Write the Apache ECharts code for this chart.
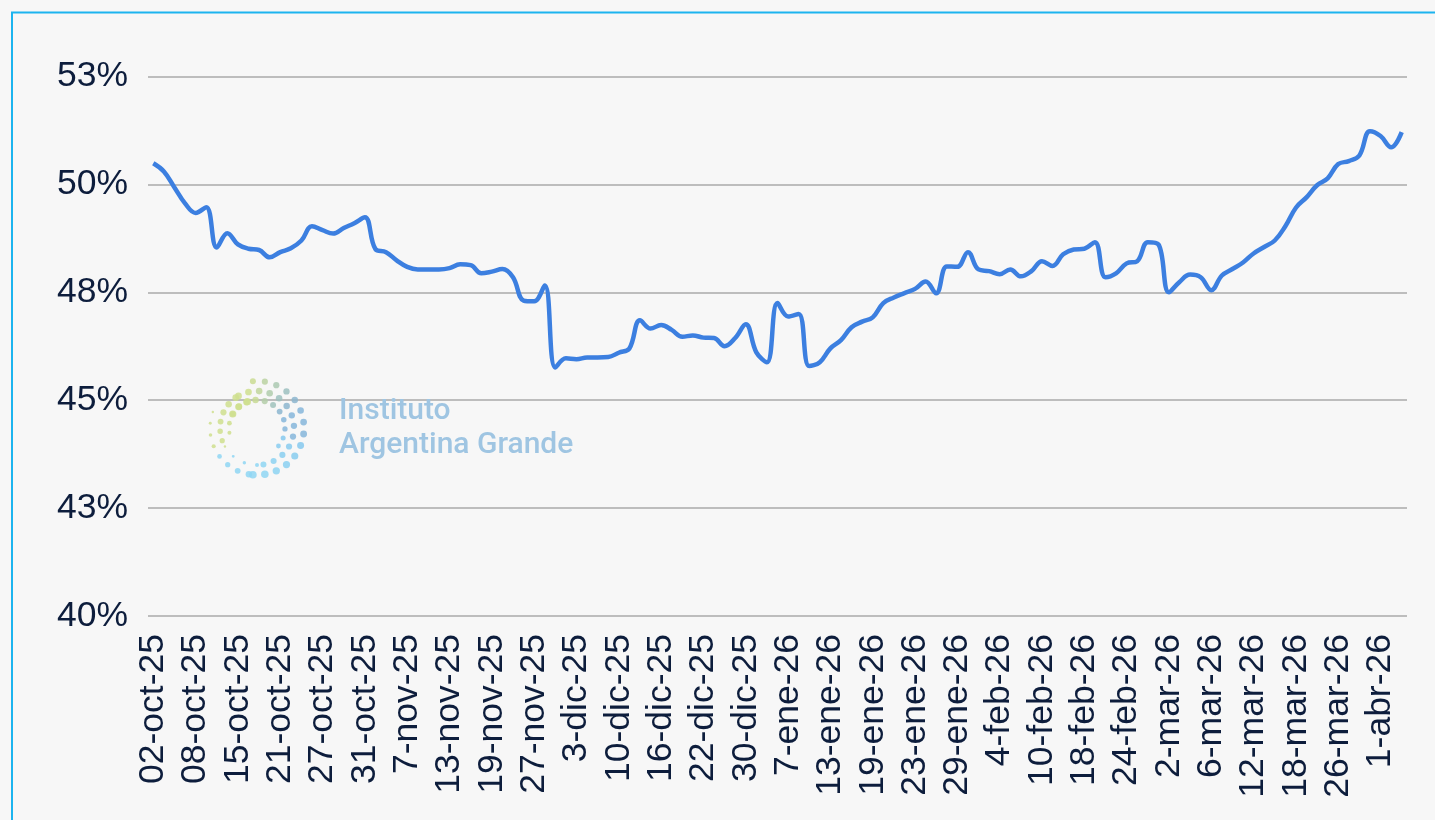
<!DOCTYPE html>
<html>
<head>
<meta charset="utf-8">
<script src="https://cdn.jsdelivr.net/npm/echarts@6/dist/echarts.min.js"></script>
<style>
html,body{margin:0;padding:0;background:#f7f7f7;}
#chart{width:1435px;height:820px;}
</style>
</head>
<body>
<div id="chart"></div>
<script>
const categories = [
 '02-oct-25','3-oct-25','6-oct-25','7-oct-25',
 '08-oct-25','9-oct-25','13-oct-25','14-oct-25',
 '15-oct-25','16-oct-25','17-oct-25','20-oct-25',
 '21-oct-25','22-oct-25','23-oct-25','24-oct-25',
 '27-oct-25','28-oct-25','29-oct-25','30-oct-25',
 '31-oct-25','3-nov-25','4-nov-25','5-nov-25',
 '7-nov-25','10-nov-25','11-nov-25','12-nov-25',
 '13-nov-25','14-nov-25','17-nov-25','18-nov-25',
 '19-nov-25','20-nov-25','25-nov-25','26-nov-25',
 '27-nov-25','28-nov-25','1-dic-25','2-dic-25',
 '3-dic-25','4-dic-25','5-dic-25','9-dic-25',
 '10-dic-25','11-dic-25','12-dic-25','15-dic-25',
 '16-dic-25','17-dic-25','18-dic-25','19-dic-25',
 '22-dic-25','23-dic-25','26-dic-25','29-dic-25',
 '30-dic-25','2-ene-26','5-ene-26','6-ene-26',
 '7-ene-26','8-ene-26','9-ene-26','12-ene-26',
 '13-ene-26','14-ene-26','15-ene-26','16-ene-26',
 '19-ene-26','20-ene-26','21-ene-26','22-ene-26',
 '23-ene-26','26-ene-26','27-ene-26','28-ene-26',
 '29-ene-26','30-ene-26','2-feb-26','3-feb-26',
 '4-feb-26','5-feb-26','6-feb-26','9-feb-26',
 '10-feb-26','11-feb-26','12-feb-26','13-feb-26',
 '18-feb-26','19-feb-26','20-feb-26','23-feb-26',
 '24-feb-26','25-feb-26','26-feb-26','27-feb-26',
 '2-mar-26','3-mar-26','4-mar-26','5-mar-26',
 '6-mar-26','9-mar-26','10-mar-26','11-mar-26',
 '12-mar-26','13-mar-26','16-mar-26','17-mar-26',
 '18-mar-26','19-mar-26','20-mar-26','25-mar-26',
 '26-mar-26','27-mar-26','30-mar-26','31-mar-26',
 '1-abr-26','6-abr-26','7-abr-26'
];

const values = [
 50.49, 50.30, 49.93, 49.56,
 49.34, 49.47, 48.54, 48.87,
 48.61, 48.51, 48.48, 48.31,
 48.43, 48.52, 48.70, 49.03,
 48.94, 48.86, 48.99, 49.10,
 49.24, 48.50, 48.43, 48.24,
 48.09, 48.03, 48.03, 48.03,
 48.06, 48.15, 48.13, 47.94,
 47.98, 48.04, 47.85, 47.31,
 47.29, 47.66, 45.76, 45.97,
 45.95, 45.99, 45.99, 46.00,
 46.10, 46.20, 46.85, 46.66,
 46.74, 46.63, 46.47, 46.50,
 46.45, 46.44, 46.25, 46.44,
 46.76, 46.11, 45.88, 47.25,
 46.94, 47.00, 45.79, 45.88,
 46.20, 46.39, 46.69, 46.82,
 46.92, 47.25, 47.38, 47.48,
 47.58, 47.75, 47.48, 48.10,
 48.09, 48.43, 48.03, 47.99,
 47.92, 48.03, 47.87, 47.99,
 48.22, 48.11, 48.38, 48.49,
 48.51, 48.66, 47.85, 47.94,
 48.17, 48.22, 48.66, 48.61,
 47.50, 47.74, 47.91, 47.85,
 47.55, 47.89, 48.04, 48.19,
 48.40, 48.55, 48.70, 49.03,
 49.46, 49.70, 49.98, 50.14,
 50.47, 50.54, 50.67, 51.23,
 51.12, 50.86, 51.21
];

const yMin = 40;
const yMax = 52.5;
const yStep = 2.5;
const logoLines = ['Instituto', 'Argentina Grande'];

const textColor = '#0d1d3c';

// decorative logo dots
function mix(a, b, t) {
  const pa = [parseInt(a.slice(1,3),16), parseInt(a.slice(3,5),16), parseInt(a.slice(5,7),16)];
  const pb = [parseInt(b.slice(1,3),16), parseInt(b.slice(3,5),16), parseInt(b.slice(5,7),16)];
  return 'rgb(' + pa.map((v,i)=>Math.round(v+(pb[i]-v)*t)).join(',') + ')';
}
const logoDots = [];
const cx = 257, cy = 428;
const rings = [
  {r: 47, a0: -95, a1: 95, n: 14, s0: 3.0, s1: 3.8},
  {r: 37, a0: -120, a1: 80, n: 13, s0: 3.4, s1: 3.0},
  {r: 28, a0: -150, a1: 40, n: 11, s0: 3.6, s1: 2.4},
  {r: 47, a0: 100, a1: 200, n: 8, s0: 3.2, s1: 1.2},
  {r: 37, a0: 90, a1: 150, n: 4, s0: 2.0, s1: 1.2},
  {r: 37, a0: 160, a1: 235, n: 6, s0: 2.6, s1: 3.4},
  {r: 28, a0: 170, a1: 250, n: 5, s0: 2.0, s1: 3.6}
];
rings.forEach(rg => {
  for (let k = 0; k < rg.n; k++) {
    const t = rg.n === 1 ? 0 : k / (rg.n - 1);
    const ang = (rg.a0 + (rg.a1 - rg.a0) * t) * Math.PI / 180;
    const x = cx + rg.r * Math.cos(ang);
    const y = cy + rg.r * Math.sin(ang);
    const deg = ((rg.a0 + (rg.a1 - rg.a0) * t) + 360) % 360;
    let col;
    if (deg >= 150 && deg <= 260) col = '#cfdf8e';
    else if (deg > 260 && deg < 330) col = mix('#cfdf8e', '#86b2d6', (deg - 260) / 70);
    else if (deg >= 330 || deg < 20) col = '#86b6db';
    else col = mix('#86c9ee', '#8fd6f3', Math.min(1, (deg - 20) / 60));
    logoDots.push({
      type: 'circle', silent: true, z: 1,
      shape: {cx: x, cy: y, r: rg.s0 + (rg.s1 - rg.s0) * t},
      style: {fill: col, opacity: 0.85}
    });
  }
});

const chart = echarts.init(document.getElementById('chart'));
chart.setOption({
  backgroundColor: '#f7f7f7',
  animation: false,
  grid: {left: 148, right: 28, top: 76.5, bottom: 204, containLabel: false},
  xAxis: {
    type: 'category',
    data: categories,
    boundaryGap: true,
    axisLine: {show: false},
    axisTick: {show: false},
    axisLabel: {
      interval: 3,
      rotate: 90,
      margin: 18,
      color: textColor,
      fontFamily: 'Liberation Sans, Arial, sans-serif',
      fontSize: 35.5
    },
    splitLine: {show: false}
  },
  yAxis: {
    type: 'value',
    min: yMin,
    max: yMax,
    interval: yStep,
    axisLine: {show: false},
    axisTick: {show: false},
    axisLabel: {
      margin: 20,
      color: textColor,
      fontFamily: 'Liberation Sans, Arial, sans-serif',
      fontSize: 35.5,
      formatter: v => Math.round(v) + '%'
    },
    splitLine: {show: true, lineStyle: {color: '#bdbdbd', width: 2}}
  },
  graphic: [
    {type: 'rect', silent: true, z: 0,
     shape: {x: 12, y: 12.5, width: 1500, height: 900},
     style: {fill: 'none', stroke: '#1cb4ef', lineWidth: 2}},
    ...logoDots,
    {type: 'text', silent: true, z: 1, left: 339, top: 396,
     style: {text: logoLines[0], fill: '#9fc5e2', font: '500 30px Roboto, "Open Sans", sans-serif'}},
    {type: 'text', silent: true, z: 1, left: 339, top: 430,
     style: {text: logoLines[1], fill: '#9fc5e2', font: '500 30px Roboto, "Open Sans", sans-serif'}}
  ],
  series: [{
    type: 'line',
    data: values,
    smooth: 0.4,
    symbol: 'none',
    z: 5,
    lineStyle: {color: '#3c7fe0', width: 4.5}
  }]
});
</script>
</body>
</html>
